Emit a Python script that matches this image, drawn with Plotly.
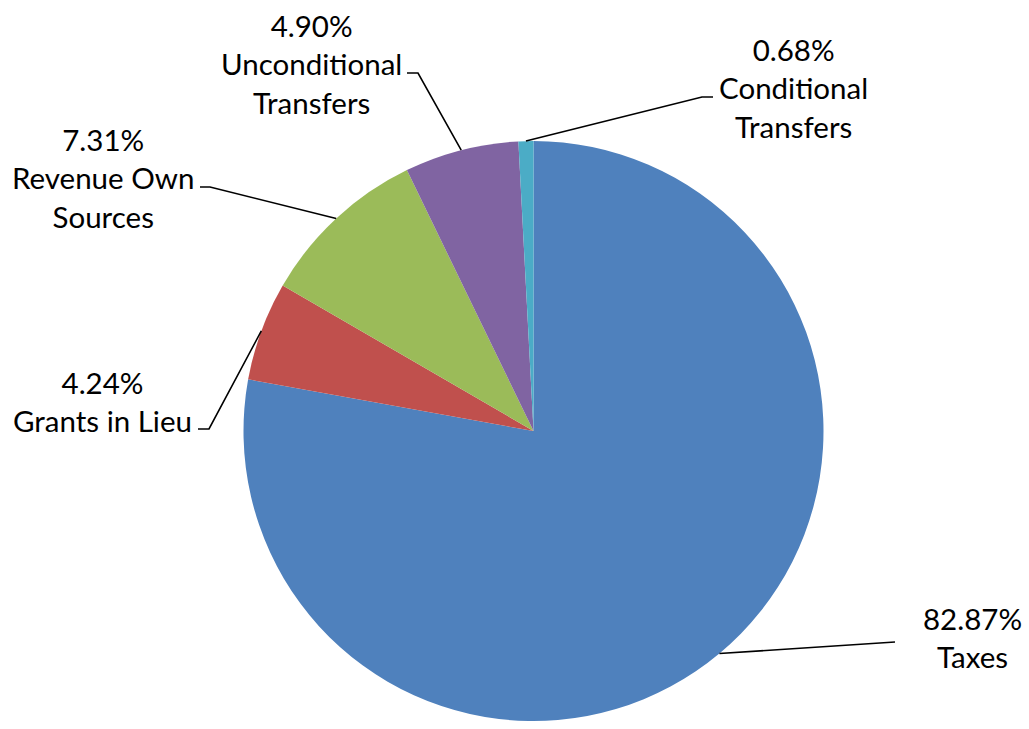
import math
import plotly.graph_objects as go

# ---- data (slice sizes; labels as printed) ----
categories = ["Taxes", "Grants in Lieu", "Revenue Own Sources",
              "Unconditional Transfers", "Conditional Transfers"]
slice_values = [77.85, 5.52, 9.44, 6.36, 0.83]
printed_pct = ["82.87%", "4.24%", "7.31%", "4.90%", "0.68%"]
label_lines = ["Taxes", "Grants in Lieu", "Revenue Own<br>Sources",
               "Unconditional<br>Transfers", "Conditional<br>Transfers"]
colors = ["#4F81BD", "#C0504D", "#9BBB59", "#8064A2", "#4BACC6"]

# ---- layout (pixels) ----
W, H = 1029, 729
CX, CY, R = 533.5, 431.0, 290.0
# label block centre, leader elbow, leader end (pixels)
label_pos = [(972, 637), (102, 401), (103, 178), (311.5, 64.5), (793, 88)]
elbow_pos = [(895, 642), (209, 429), (210, 187), (418, 73), (702, 97)]
end_pos = [(895, 642), (198, 429), (200, 187), (407, 73), (713, 97)]


def px(x):
    return x / W


def py(y):
    return 1 - y / H


fig = go.Figure(go.Pie(
    labels=categories,
    values=slice_values,
    sort=False,
    direction="clockwise",
    rotation=0,
    marker=dict(colors=colors, line=dict(width=0)),
    textinfo="none",
    textposition="none",
    hoverinfo="skip",
    showlegend=False,
    domain=dict(x=[px(CX - R), px(CX + R)], y=[py(CY + R), py(CY - R)]),
))

total = sum(slice_values)
cum = 0.0
shapes = []
annotations = []
for i, v in enumerate(slice_values):
    mid = (cum + v / 2) / total * 2 * math.pi
    cum += v
    sx = CX + R * math.sin(mid)
    sy = CY - R * math.cos(mid)
    ex, ey = elbow_pos[i]
    tx, ty = end_pos[i]
    shapes.append(dict(
        type="path", xref="paper", yref="paper",
        path=f"M {px(sx)} {py(sy)} L {px(ex)} {py(ey)} L {px(tx)} {py(ty)}",
        line=dict(color="black", width=1.6),
    ))
    lx, ly = label_pos[i]
    annotations.append(dict(
        x=px(lx), y=py(ly), xref="paper", yref="paper",
        xanchor="center", yanchor="middle", showarrow=False,
        text=f"{printed_pct[i]}<br>{label_lines[i]}",
        font=dict(family="Lato, Carlito, Liberation Sans, sans-serif",
                  size=29.5, color="black"),
        align="center",
    ))

fig.update_layout(
    width=W, height=H,
    margin=dict(l=0, r=0, t=0, b=0),
    paper_bgcolor="white",
    plot_bgcolor="white",
    shapes=shapes,
    annotations=annotations,
)

fig.write_html(
    "out.html",
    config={"displayModeBar": False},
    post_script="document.body.style.margin='0';document.body.style.padding='0';",
)
